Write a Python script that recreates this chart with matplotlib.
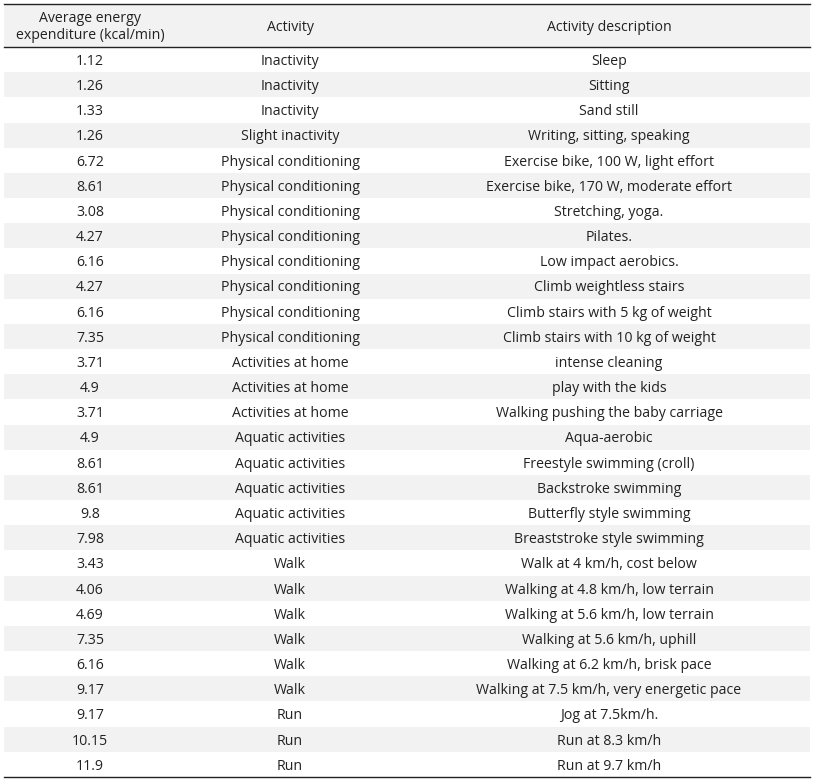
import matplotlib.pyplot as plt
from matplotlib.patches import Rectangle

plt.rcParams['font.family'] = ['Open Sans', 'DejaVu Sans']

headers = ["Average energy\nexpenditure (kcal/min)", "Activity", "Activity description"]

energy = ["1.12", "1.26", "1.33", "1.26", "6.72", "8.61", "3.08", "4.27", "6.16", "4.27",
          "6.16", "7.35", "3.71", "4.9", "3.71", "4.9", "8.61", "8.61", "9.8", "7.98",
          "3.43", "4.06", "4.69", "7.35", "6.16", "9.17", "9.17", "10.15", "11.9"]

activity = ["Inactivity", "Inactivity", "Inactivity", "Slight inactivity"] + \
    ["Physical conditioning"] * 8 + ["Activities at home"] * 3 + \
    ["Aquatic activities"] * 5 + ["Walk"] * 6 + ["Run"] * 3

description = ["Sleep", "Sitting", "Sand still", "Writing, sitting, speaking",
               "Exercise bike, 100 W, light effort", "Exercise bike, 170 W, moderate effort",
               "Stretching, yoga.", "Pilates.", "Low impact aerobics.", "Climb weightless stairs",
               "Climb stairs with 5 kg of weight", "Climb stairs with 10 kg of weight",
               "intense cleaning", "play with the kids", "Walking pushing the baby carriage",
               "Aqua-aerobic", "Freestyle swimming (croll)", "Backstroke swimming",
               "Butterfly style swimming", "Breaststroke style swimming",
               "Walk at 4 km/h, cost below", "Walking at 4.8 km/h, low terrain",
               "Walking at 5.6 km/h, low terrain", "Walking at 5.6 km/h, uphill",
               "Walking at 6.2 km/h, brisk pace", "Walking at 7.5 km/h, very energetic pace",
               "Jog at 7.5km/h.", "Run at 8.3 km/h", "Run at 9.7 km/h"]

W, H = 813, 781
fig = plt.figure(figsize=(W / 100, H / 100), dpi=100)
ax = fig.add_axes([0, 0, 1, 1])
ax.set_xlim(0, W)
ax.set_ylim(H, 0)
ax.axis('off')

left, right = 4, 810
top, head_bot, bottom = 4, 47, 777
col_x = [90, 290, 609]
n = len(energy)
rh = (bottom - head_bot) / n
shade = '#f2f2f2'
fs = 10.2
dy = 1.8  # text sits a bit low in its row

# header
ax.add_patch(Rectangle((left, top), right - left, head_bot - top, color=shade, lw=0))
for x, h in zip(col_x, headers):
    ax.text(x, (top + head_bot) / 2 + dy, h, ha='center', va='center', fontsize=fs,
            color='#222222', linespacing=1.15)

for i in range(n):
    y0 = head_bot + i * rh
    if i % 2 == 1:
        ax.add_patch(Rectangle((left, y0), right - left, rh, color=shade, lw=0))
    yc = y0 + rh / 2 + dy
    for x, val in zip(col_x, (energy[i], activity[i], description[i])):
        ax.text(x, yc, val, ha='center', va='center', fontsize=fs, color='#222222')

for y in (top, head_bot, bottom):
    ax.plot([left, right], [y, y], color='#222222', lw=1.0)

fig.savefig('out.png', dpi=100)
